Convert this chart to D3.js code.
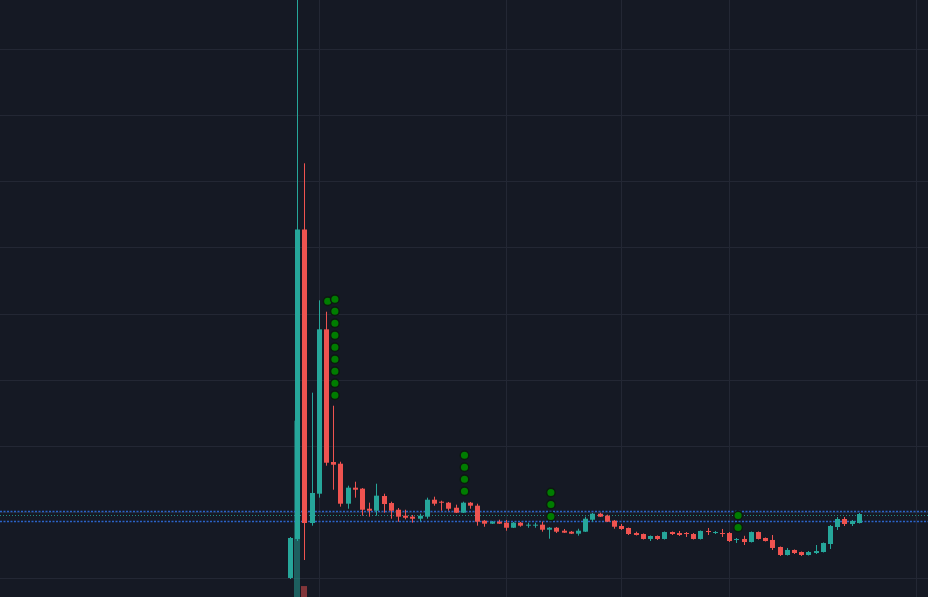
<!DOCTYPE html>
<html>
<head>
<meta charset="utf-8">
<script src="https://cdn.jsdelivr.net/npm/d3@7"></script>
<style>
  html, body { margin: 0; padding: 0; background: #151924; overflow: hidden; }
  svg { display: block; }
</style>
</head>
<body>
<svg id="chart" width="928" height="597"></svg>
<script>
// ---------------- DATA ----------------
// OHLC per bar (price units)
const opens  = [100.5,159.4,626.9,183.5,227.8,476.1,275.7,273.1,212.7,236.9,235.4,205.1,202.1,224.3,213.7,203.6,194.6,193.1,190.0,193.1,218.7,215.7,214.2,206.6,199.1,214.2,209.7,187.0,182.5,185.5,184.0,176.4,184.0,179.5,179.5,181.0,173.4,176.4,171.9,170.4,167.4,170.4,188.5,197.6,194.6,187.0,179.0,176.0,168.4,166.9,159.4,163.9,159.4,169.9,168.4,168.4,166.9,159.4,171.5,168.4,168.4,168.4,157.9,159.4,154.8,169.9,160.9,157.9,147.3,135.2,142.8,139.7,135.2,138.2,139.7,151.8,177.5,189.6,182.0,183.5];
const highs  = [162.4,981.1,726.9,380.4,519.9,502.7,360.7,276.1,239.9,245.9,236.4,214.2,242.9,227.8,215.7,206.2,203.6,195.6,197.6,221.8,223.3,217.2,215.3,211.2,215.7,215.3,212.7,188.1,186.6,188.5,188.1,185.0,185.0,184.0,184.0,185.5,177.5,177.5,174.5,171.5,174.9,193.1,198.6,199.1,196.1,188.1,182.0,176.7,170.4,167.7,164.7,164.7,170.7,170.7,171.5,169.9,168.4,172.2,176.0,171.5,174.5,169.9,160.9,164.2,170.7,170.7,161.6,165.4,148.0,145.8,143.5,140.5,141.2,150.3,154.1,180.5,192.6,192.6,188.1,198.6];
const lows   = [98.9,156.3,127.6,179.5,221.8,270.1,233.8,208.2,205.1,221.8,194.6,193.1,194.6,199.1,190.0,185.5,189.1,184.0,186.1,190.0,209.7,202.1,202.1,198.6,198.6,205.1,179.5,177.9,182.0,182.0,171.9,176.0,177.9,176.4,176.4,170.4,159.8,168.4,168.4,166.9,164.4,169.9,185.5,192.6,185.0,174.9,173.0,165.4,164.7,158.6,156.3,157.9,158.6,165.4,163.9,162.4,158.6,158.6,165.4,166.9,162.4,154.8,153.3,150.3,154.1,158.6,155.6,142.8,133.7,134.4,136.7,133.7,134.4,136.7,139.0,144.3,173.0,179.0,179.0,182.8];
const closes = [160.9,626.9,183.5,228.9,476.1,274.6,271.6,212.7,236.9,233.8,203.6,202.1,224.8,212.2,202.1,193.1,191.5,190.0,194.6,218.7,212.7,214.2,205.1,199.1,214.2,209.7,185.5,182.5,185.5,182.5,176.4,184.0,179.5,181.0,181.0,173.4,176.4,170.4,168.9,167.4,171.9,190.0,197.6,193.1,185.5,177.9,174.5,166.9,165.4,159.4,163.9,159.4,169.9,166.9,165.4,166.9,159.4,171.5,169.9,169.9,166.9,156.3,159.4,154.8,169.9,159.4,156.3,145.8,135.2,142.8,138.2,135.2,139.7,141.2,153.3,179.0,189.6,182.0,186.6,197.1];
// volume per bar (only the two spike bars are visible)
const volumes = [0,1000,62,0,0,0,0,0,0,0,0,0,0,0,0,0,0,0,0,0,0,0,0,0,0,0,0,0,0,0,0,0,0,0,0,0,0,0,0,0,0,0,0,0,0,0,0,0,0,0,0,0,0,0,0,0,0,0,0,0,0,0,0,0,0,0,0,0,0,0,0,0,0,0,0,0,0,0,0,0];
// signal markers: bar index and number of stacked dots
const markerBars   = [5, 6, 24, 36, 62];
const markerCounts = [1, 9, 4, 3, 2];
// horizontal price levels
const blueLevels = [202.1, 186.1];
const lastPrice  = 195.2;
// grid
const priceTicks = [100, 200, 300, 400, 500, 600, 700, 800, 900];
const timeTicks  = [4, 30, 46, 61, 87];

// ---------------- CHART ----------------
const W = 928, H = 597;
const svg = d3.select("#chart");
const UP = "#26a69a", DOWN = "#ef5350";

const x = d3.scaleLinear().domain([0, 87]).range([290.5, 916.9]);
const y = d3.scaleLinear().domain([71.75, 973.6]).range([H, 0]);
const yv = d3.scaleLinear().domain([0, 1000]).range([H, 420.7]);

svg.append("rect").attr("width", W).attr("height", H).attr("fill", "#151924");

svg.append("defs").append("clipPath").attr("id", "clip")
  .append("rect").attr("width", W).attr("height", H);

const g = svg.append("g").attr("clip-path", "url(#clip)");

// grid
g.append("g").selectAll("line").data(priceTicks).join("line")
  .attr("x1", 0).attr("x2", W)
  .attr("y1", d => Math.round(y(d)) + 0.5).attr("y2", d => Math.round(y(d)) + 0.5)
  .attr("stroke", "#232734").attr("stroke-width", 1);
g.append("g").selectAll("line").data(timeTicks).join("line")
  .attr("y1", 0).attr("y2", H)
  .attr("x1", d => Math.round(x(d) - 0.5) + 0.5).attr("x2", d => Math.round(x(d) - 0.5) + 0.5)
  .attr("stroke", "#232734").attr("stroke-width", 1);

const bars = d3.range(opens.length).map(i => ({
  i, o: opens[i], h: highs[i], l: lows[i], c: closes[i], v: volumes[i]
}));

// volume
g.append("g").selectAll("rect").data(bars.filter(d => d.v > 0)).join("rect")
  .attr("x", d => Math.round(x(d.i) - 2.5) - 1)
  .attr("width", 6)
  .attr("y", d => yv(d.v))
  .attr("height", d => H - yv(d.v))
  .attr("fill", d => d.c >= d.o ? "rgba(38,166,154,0.5)" : "rgba(239,83,80,0.5)");

// level lines
g.append("g").selectAll("line").data(blueLevels).join("line")
  .attr("x1", 0).attr("x2", W)
  .attr("y1", d => Math.round(y(d)) + 0.5).attr("y2", d => Math.round(y(d)) + 0.5)
  .attr("stroke", "#2b63c8").attr("stroke-width", 1.5)
  .attr("stroke-dasharray", "2,1.5");
g.append("line")
  .attr("x1", 0).attr("x2", W)
  .attr("y1", Math.round(y(lastPrice)) + 0.5).attr("y2", Math.round(y(lastPrice)) + 0.5)
  .attr("stroke", UP).attr("stroke-opacity", 0.8).attr("stroke-width", 1)
  .attr("stroke-dasharray", "1,2");

// candles
const cg = g.append("g").selectAll("g").data(bars).join("g");
cg.append("line")
  .attr("x1", d => Math.round(x(d.i) - 2.5) + 2.5)
  .attr("x2", d => Math.round(x(d.i) - 2.5) + 2.5)
  .attr("y1", d => y(d.h)).attr("y2", d => y(d.l))
  .attr("stroke", d => d.c >= d.o ? UP : DOWN).attr("stroke-width", 1);
cg.append("rect")
  .attr("x", d => Math.round(x(d.i) - 2.5))
  .attr("width", 5)
  .attr("y", d => y(Math.max(d.o, d.c)))
  .attr("height", d => Math.max(1, Math.abs(y(d.o) - y(d.c))))
  .attr("fill", d => d.c >= d.o ? UP : DOWN);

// signal dots
const dots = [];
markerBars.forEach((b, k) => {
  for (let j = 0; j < markerCounts[k]; j++) dots.push({ b, j });
});
g.append("g").selectAll("circle").data(dots).join("circle")
  .attr("cx", d => x(d.b) + 1.2)
  .attr("cy", d => y(highs[d.b]) - 10.5 - d.j * 12)
  .attr("r", 4.3)
  .attr("fill", "#007d00")
  .attr("stroke", "#0c1a10").attr("stroke-width", 1.5);
</script>
</body>
</html>
